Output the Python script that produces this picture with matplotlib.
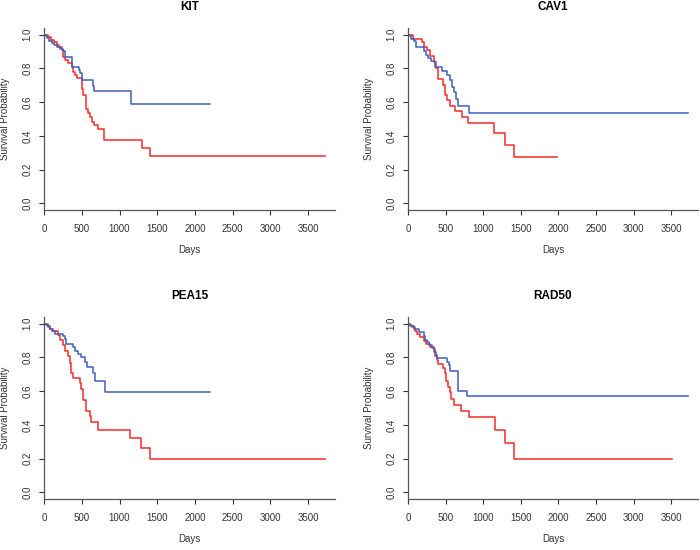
import matplotlib
matplotlib.use("Agg")
import matplotlib.pyplot as plt

plt.rcParams['font.family'] = ['Liberation Sans', 'DejaVu Sans']

# Kaplan-Meier curves: event times (days) and survival after each drop
genes = ['KIT', 'CAV1', 'PEA15', 'RAD50']

kit_blue_t = [20, 40, 70, 100, 130, 170, 210, 250, 280, 376, 464, 477, 508, 645, 667, 1153]
kit_blue_s = [0.99, 0.98, 0.965, 0.95, 0.94, 0.925, 0.915, 0.905, 0.868, 0.81, 0.79, 0.77, 0.73, 0.695, 0.667, 0.588]
kit_blue_end = 2200
kit_red_t = [50, 90, 130, 170, 200, 235, 255, 280, 320, 365, 390, 410, 440, 500, 520, 555, 580, 610, 632, 663, 720, 800, 1300, 1410]
kit_red_s = [0.985, 0.97, 0.955, 0.94, 0.925, 0.91, 0.87, 0.85, 0.83, 0.81, 0.78, 0.76, 0.745, 0.68, 0.64, 0.56, 0.535, 0.51, 0.485, 0.465, 0.44, 0.375, 0.325, 0.28]
kit_red_end = 3720

cav1_blue_t = [20, 45, 75, 110, 210, 240, 270, 300, 360, 450, 517, 552, 583, 614, 641, 660, 804]
cav1_blue_s = [0.99, 0.975, 0.96, 0.925, 0.905, 0.88, 0.86, 0.845, 0.81, 0.785, 0.76, 0.73, 0.69, 0.66, 0.62, 0.575, 0.535]
cav1_blue_end = 3720
cav1_red_t = [60, 180, 215, 250, 295, 345, 370, 392, 405, 470, 495, 517, 560, 625, 715, 795, 1145, 1285, 1405]
cav1_red_s = [0.975, 0.955, 0.93, 0.91, 0.875, 0.84, 0.80, 0.76, 0.735, 0.70, 0.645, 0.615, 0.58, 0.545, 0.51, 0.475, 0.415, 0.345, 0.275]
cav1_red_end = 1980

pea15_blue_t = [25, 50, 80, 110, 150, 250, 275, 295, 385, 407, 451, 495, 539, 570, 650, 672, 805]
pea15_blue_s = [0.99, 0.98, 0.97, 0.955, 0.94, 0.925, 0.91, 0.88, 0.86, 0.84, 0.82, 0.80, 0.775, 0.745, 0.71, 0.663, 0.596]
pea15_blue_end = 2200
pea15_red_t = [55, 80, 120, 185, 210, 250, 275, 318, 350, 362, 385, 480, 495, 517, 560, 605, 627, 716, 1145, 1290, 1410]
pea15_red_s = [0.985, 0.97, 0.955, 0.935, 0.905, 0.875, 0.84, 0.81, 0.77, 0.71, 0.68, 0.65, 0.61, 0.55, 0.48, 0.45, 0.415, 0.37, 0.32, 0.26, 0.20]
pea15_red_end = 3720

rad50_blue_t = [20, 50, 95, 140, 210, 230, 255, 280, 320, 345, 367, 390, 517, 540, 561, 658, 790]
rad50_blue_s = [0.99, 0.98, 0.97, 0.95, 0.93, 0.905, 0.89, 0.875, 0.855, 0.835, 0.815, 0.795, 0.775, 0.755, 0.72, 0.60, 0.57]
rad50_blue_end = 3720
rad50_red_t = [30, 75, 97, 120, 163, 208, 240, 296, 340, 355, 365, 380, 393, 464, 486, 504, 526, 561, 570, 605, 707, 804, 1150, 1290, 1405]
rad50_red_s = [0.985, 0.97, 0.955, 0.94, 0.92, 0.90, 0.88, 0.865, 0.85, 0.83, 0.81, 0.785, 0.76, 0.74, 0.71, 0.66, 0.625, 0.595, 0.555, 0.52, 0.48, 0.445, 0.37, 0.295, 0.195]
rad50_red_end = 3515

curves = {
    'KIT': [(kit_red_t, kit_red_s, kit_red_end), (kit_blue_t, kit_blue_s, kit_blue_end)],
    'CAV1': [(cav1_red_t, cav1_red_s, cav1_red_end), (cav1_blue_t, cav1_blue_s, cav1_blue_end)],
    'PEA15': [(pea15_red_t, pea15_red_s, pea15_red_end), (pea15_blue_t, pea15_blue_s, pea15_blue_end)],
    'RAD50': [(rad50_red_t, rad50_red_s, rad50_red_end), (rad50_blue_t, rad50_blue_s, rad50_blue_end)],
}
colors = ['#F52A2A', '#3F5FC0']

x_ticks = [0, 500, 1000, 1500, 2000, 2500, 3000, 3500]
y_ticks = [0.0, 0.2, 0.4, 0.6, 0.8, 1.0]

# axes rectangles in figure fractions (700x550 px)
positions = [
    [0.0629, 0.6182, 0.4157, 0.3309],
    [0.5829, 0.6182, 0.4143, 0.3309],
    [0.0629, 0.0927, 0.4157, 0.3309],
    [0.5829, 0.0927, 0.4143, 0.3309],
]

fig = plt.figure(figsize=(7, 5.5), dpi=100)

for gene, pos in zip(genes, positions):
    ax = fig.add_axes(pos)
    for (t, s, end), c in zip(curves[gene], colors):
        xs = [0] + t + [end]
        ys = [1.0] + s + [s[-1]]
        ax.step(xs, ys, where='post', color=c, lw=1.1)
    ax.set_xlim(0, 3855)
    ax.set_ylim(-0.04, 1.04)
    ax.spines['top'].set_visible(False)
    ax.spines['right'].set_visible(False)
    for sp in ['left', 'bottom']:
        ax.spines[sp].set_color('#555555')
        ax.spines[sp].set_linewidth(0.9)
    ax.set_xticks(x_ticks)
    ax.set_yticks(y_ticks)
    ax.set_yticklabels(['%.1f' % v for v in y_ticks], rotation=90, va='center')
    ax.tick_params(axis='x', length=3.6, width=0.8, pad=6.5, labelsize=7, colors='#333333')
    ax.tick_params(axis='y', length=3.6, width=0.8, pad=4.5, labelsize=7, colors='#333333')
    ax.set_xlabel('Days', fontsize=7, color='#333333', va='center')
    ax.xaxis.set_label_coords(0.5, -0.22)
    ax.set_ylabel('Survival Probability', fontsize=7, color='#333333', va='center')
    ax.yaxis.set_label_coords(-0.134, 0.5)
    ax.set_title(gene, fontsize=8.5, fontweight='bold', pad=13)

plt.savefig('out.png', dpi=100)
